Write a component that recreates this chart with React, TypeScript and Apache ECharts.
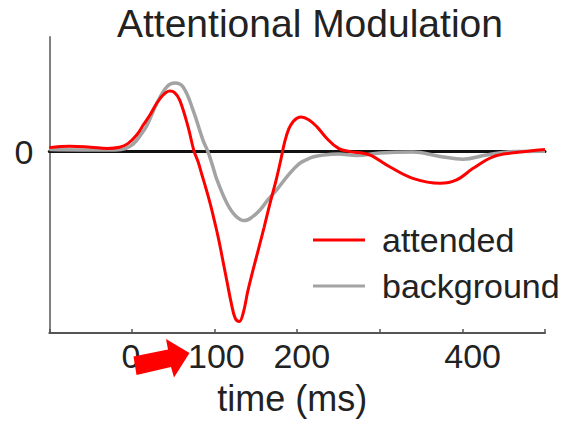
import React, { useEffect, useRef } from "react";
import * as echarts from "echarts";

const FONT = "'Liberation Sans', Arial, Helvetica, sans-serif";

// time (ms) / amplitude (a.u.)
const attendedTimes = [-100, -75, -50, -30, -15, -5, 6, 14, 22, 34, 46, 52, 58, 68, 75, 80, 85, 90, 95, 100, 105, 110, 115, 120, 125, 130, 135, 140, 145, 150, 155, 160, 165, 170, 175, 180, 185, 190, 195, 200, 205, 214, 224, 236, 250, 264, 280, 290, 312, 340, 373, 393, 413, 437, 462, 500];
const attendedValues = [0.2, 0.27, 0.22, 0.16, 0.22, 0.4, 0.85, 1.35, 1.85, 2.66, 3.04, 2.95, 2.57, 1.24, 0.05, -0.5, -1.2, -1.9, -2.65, -3.5, -4.4, -5.45, -6.5, -7.55, -8.35, -8.52, -8.05, -7.05, -6.2, -5.4, -4.6, -3.8, -2.95, -2.15, -1.35, -0.45, 0.5, 1.15, 1.5, 1.68, 1.74, 1.6, 1.24, 0.66, 0.16, 0.0, -0.08, -0.2, -0.76, -1.34, -1.59, -1.42, -0.84, -0.26, -0.06, 0.11];

const backgroundTimes = [-100, -60, -20, -8, 2, 10, 18, 30, 42, 52, 62, 74, 86, 92, 98, 103, 115, 125, 136, 145, 155, 165, 175, 191, 203, 212, 220, 232, 250, 272, 300, 340, 373, 401, 429, 461, 500];
const backgroundValues = [0.1, 0.08, 0.08, 0.15, 0.4, 0.8, 1.3, 2.4, 3.24, 3.44, 3.24, 2.08, 0.58, 0.0, -0.76, -1.42, -2.59, -3.2, -3.46, -3.3, -2.93, -2.4, -1.93, -1.09, -0.59, -0.39, -0.26, -0.17, -0.12, -0.2, -0.07, -0.02, -0.24, -0.38, -0.17, 0.0, 0.02];

const zeroLineTimes = [-100, 500];
const zeroLineValues = [0, 0];

const xTickLabels = [0, 100, 200, 400];
const yTickLabels = [0];
const seriesNames = ["attended", "background"];

const zip = (xs: number[], ys: number[]) => xs.map((x, i) => [x, ys[i]]);

export default function App() {
  const ref = useRef<HTMLDivElement>(null);
  useEffect(() => {
    if (!ref.current) return;
    const chart = echarts.init(ref.current, null, { renderer: "svg" });
    chart.setOption({
      animation: false,
      backgroundColor: "#ffffff",
      title: {
        text: "Attentional Modulation",
        left: 112,
        top: -1,
        padding: 5,
        textStyle: { fontSize: 39, fontWeight: "normal", color: "#222", fontFamily: FONT },
      },
      legend: {
        data: seriesNames,
        orient: "vertical",
        left: 313,
        top: 222,
        padding: 0,
        itemGap: 10,
        itemWidth: 52,
        itemHeight: 3,
        icon: "rect",
        textStyle: { fontSize: 34, lineHeight: 36, color: "#222", fontFamily: FONT, padding: [0, 0, 0, 12] },
      },
      grid: { left: 49.3, right: 27, top: 37, bottom: 90, containLabel: false },
      xAxis: [
        {
          type: "value",
          min: -100,
          max: 500,
          interval: 100,
          position: "bottom",
          axisLine: { show: true, onZero: false, lineStyle: { color: "#555", width: 2 } },
          axisTick: { show: true, inside: true, length: 4, lineStyle: { color: "#555", width: 1.5 } },
          axisLabel: { show: false },
          splitLine: { show: false },
          name: "time (ms)",
          nameLocation: "middle",
          nameGap: 47,
          nameTextStyle: { fontSize: 36, color: "#222", fontFamily: FONT, padding: [0, 10, 0, 0] },
        },
        {
          type: "value",
          min: -95.7,
          max: 484.8,
          position: "bottom",
          offset: 0,
          axisLine: { show: false, onZero: false },
          axisTick: { show: false },
          splitLine: { show: false },
          axisLabel: { customValues: xTickLabels, fontSize: 34, margin: 6, color: "#222", fontFamily: FONT },
        },
      ],
      yAxis: {
        type: "value",
        min: -9.1,
        max: 5.75,
        axisLine: { show: true, onZero: false, lineStyle: { color: "#7f7f7f", width: 2 } },
        axisTick: { show: false },
        splitLine: { show: false },
        axisLabel: { customValues: yTickLabels, fontSize: 34, margin: 16, color: "#222", fontFamily: FONT },
      },
      series: [
        {
          name: "zero",
          type: "line",
          xAxisIndex: 0,
          data: zip(zeroLineTimes, zeroLineValues),
          showSymbol: false,
          lineStyle: { color: "#111", width: 3, cap: "round" },
          z: 1,
          silent: true,
        },
        {
          name: "background",
          type: "line",
          xAxisIndex: 0,
          data: zip(backgroundTimes, backgroundValues),
          smooth: 0.4,
          showSymbol: false,
          color: "#a3a3a3",
          lineStyle: { color: "#a3a3a3", width: 3.5 },
          z: 2,
        },
        {
          name: "attended",
          type: "line",
          xAxisIndex: 0,
          data: zip(attendedTimes, attendedValues),
          smooth: 0.4,
          showSymbol: false,
          color: "#ff0000",
          lineStyle: { color: "#ff0000", width: 3 },
          z: 3,
        },
      ],
      graphic: [
        {
          type: "polygon",
          z: 100,
          shape: {
            points: [
              [133.5, 356.5],
              [168, 349.5],
              [166, 339],
              [189.5, 353],
              [174, 377.5],
              [171, 367],
              [136.5, 375],
            ],
          },
          style: { fill: "#ff0000" },
        },
      ],
    });
    return () => chart.dispose();
  }, []);
  return <div ref={ref} style={{ width: 572, height: 423, position: "absolute", left: 0, top: 0 }} />;
}
